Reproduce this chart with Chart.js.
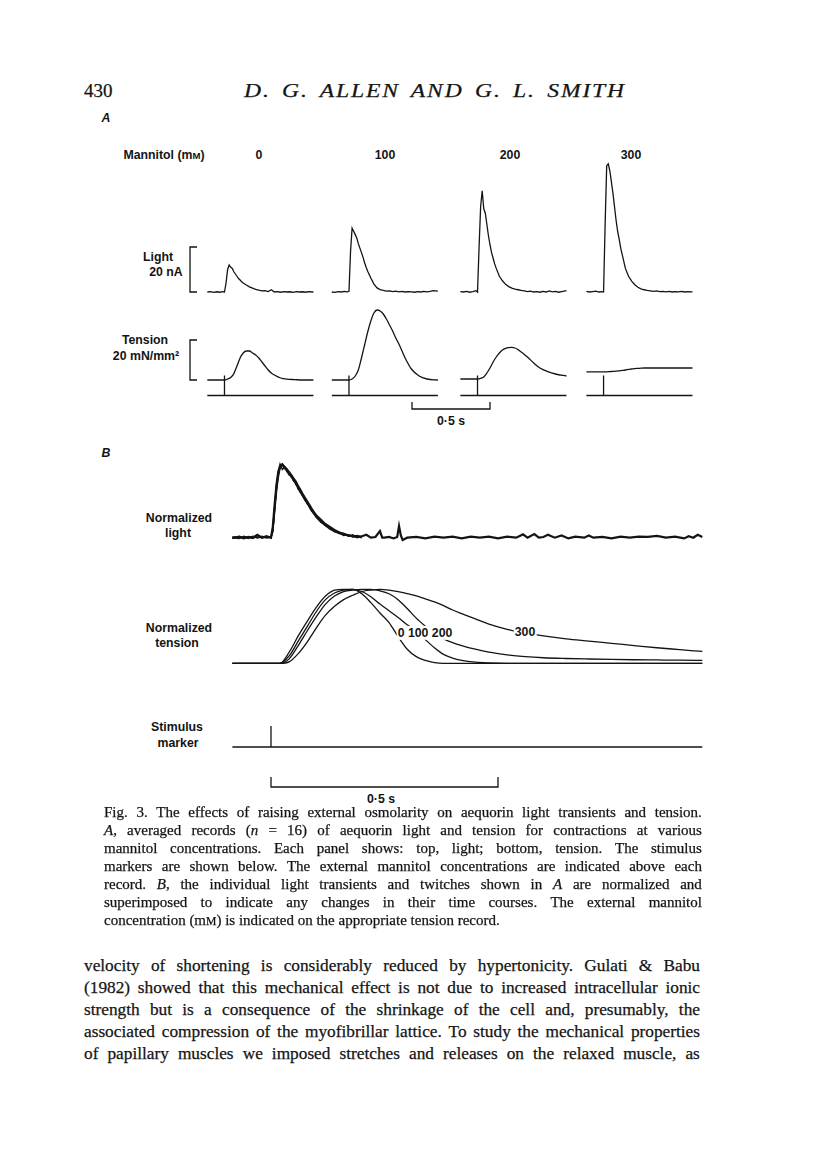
<!DOCTYPE html>
<html>
<head>
<meta charset="utf-8">
<script src="https://cdn.jsdelivr.net/npm/chart.js@4.4.1/dist/chart.umd.min.js"></script>
<style>
  body { margin: 0; background: #fff; }
  #page { position: relative; width: 816px; height: 1170px; overflow: hidden; color: #141414; }
  canvas { position: absolute; }
  .lab { position: absolute; transform: translate(-50%, -50%); font-family: "Liberation Sans", Arial, sans-serif;
         font-size: 12.3px; font-weight: bold; line-height: 1; white-space: nowrap; }
  .tag { background: #fff; padding: 1px 1px; }
  .serif { position: absolute; font-family: "Liberation Serif", "Times New Roman", serif; white-space: nowrap;
           -webkit-text-stroke: 0.25px #141414; }
  .j { position: absolute; display: flex; justify-content: space-between; white-space: nowrap;
       font-family: "Liberation Serif", "Times New Roman", serif; -webkit-text-stroke: 0.25px #141414; }
  .cap { left: 104px; width: 598px; font-size: 15px; line-height: 18px; }
  .body { left: 84px; width: 616px; font-size: 17.3px; line-height: 22px; }
  small { font-size: 0.78em; }
</style>
</head>
<body>
<div id="page">
  <div class="serif" style="left:84px; top:80px; font-size:19px;">430</div>
  <div class="serif" style="left:435px; top:80px; font-size:19px; font-style:italic; letter-spacing:1.5px; word-spacing:3px; transform:translateX(-50%) scaleX(1.24);">D. G. ALLEN AND G. L. SMITH</div>

  <div class="lab" style="left:106px; top:118px; font-style:italic;">A</div>
  <div class="lab" style="left:164px; top:155px;">Mannitol (m<small>M</small>)</div>
  <div class="lab" style="left:259px; top:155px;">0</div>
  <div class="lab" style="left:385px; top:155px;">100</div>
  <div class="lab" style="left:510px; top:155px;">200</div>
  <div class="lab" style="left:631px; top:155px;">300</div>
  <div class="lab" style="left:158px; top:257px;">Light</div>
  <div class="lab" style="left:166px; top:272px;">20 nA</div>
  <div class="lab" style="left:145px; top:340px;">Tension</div>
  <div class="lab" style="left:146px; top:356px;">20 mN/mm²</div>
  <div class="lab" style="left:451px; top:421px;">0·5 s</div>

  <div class="lab" style="left:106px; top:453px; font-style:italic;">B</div>
  <div class="lab" style="left:179px; top:518px;">Normalized</div>
  <div class="lab" style="left:178px; top:533px;">light</div>
  <div class="lab" style="left:179px; top:628px;">Normalized</div>
  <div class="lab" style="left:177px; top:643px;">tension</div>
  <div class="lab" style="left:177px; top:727px;">Stimulus</div>
  <div class="lab" style="left:178px; top:743px;">marker</div>
  <div class="lab" style="left:381px; top:799px;">0·5 s</div>

  <canvas id="panelA" width="620" height="290" style="left:100px; top:140px;"></canvas>
  <canvas id="panelB" width="520" height="360" style="left:200px; top:450px;"></canvas>

  <div class="lab tag" style="left:425px; top:633px;">0 100 200</div>
  <div class="lab tag" style="left:525px; top:632px;">300</div>

  <div class="j cap" style="top:803px;">Fig. 3. The effects of raising external osmolarity on aequorin light transients and tension.</div>
  <div class="j cap" style="top:821px;"><i>A</i>, averaged records (<i>n</i> = 16) of aequorin light and tension for contractions at various</div>
  <div class="j cap" style="top:839px;">mannitol concentrations. Each panel shows: top, light; bottom, tension. The stimulus</div>
  <div class="j cap" style="top:857px;">markers are shown below. The external mannitol concentrations are indicated above each</div>
  <div class="j cap" style="top:875px;">record. <i>B</i>, the individual light transients and twitches shown in <i>A</i> are normalized and</div>
  <div class="j cap" style="top:893px;">superimposed to indicate any changes in their time courses. The external mannitol</div>
  <div class="serif cap" style="top:911px;">concentration (m<small>M</small>) is indicated on the appropriate tension record.</div>

  <div class="j body" style="top:955px;">velocity of shortening is considerably reduced by hypertonicity. Gulati &amp; Babu</div>
  <div class="j body" style="top:977px;">(1982) showed that this mechanical effect is not due to increased intracellular ionic</div>
  <div class="j body" style="top:999px;">strength but is a consequence of the shrinkage of the cell and, presumably, the</div>
  <div class="j body" style="top:1021px;">associated compression of the myofibrillar lattice. To study the mechanical properties</div>
  <div class="j body" style="top:1043px;">of papillary muscles we imposed stretches and releases on the relaxed muscle, as</div>
</div>

<script>
// ---------- Panel A: averaged records, one per mannitol concentration ----------
const mannitol = ['0', '100', '200', '300'];

// light (nA) sampled at tLightA seconds after the stimulus
const tLightA = [-0.11, -0.09, -0.07, -0.05, -0.03, -0.01, 0, 0.01, 0.02, 0.03, 0.04, 0.05, 0.06, 0.07,
  0.08, 0.09, 0.10, 0.11, 0.12, 0.14, 0.16, 0.18, 0.20, 0.22, 0.24, 0.26, 0.28, 0.30, 0.32, 0.34,
  0.36, 0.38, 0.40, 0.42, 0.44, 0.46, 0.48, 0.50, 0.52, 0.54, 0.57];
const lightA0 = [0, 0.2, -0.2, 0.1, -0.1, 0.2, 0, 4, 10, 12, 11, 10.5, 9, 8, 7, 6, 5.3, 4.6, 4, 3.1,
  2.3, 1.7, 1.2, 0.8, 0.5, 0.6, 0.2, 1.0, 0, 0.2, -0.1, 0.2, 0, 0.1, -0.2, 0.2, 0, 0.1, -0.1, 0.2, 0];
const lightA100 = [0, -0.2, 0.2, 0, 0.3, 0.1, 0.3, 18, 28.4, 27, 25.5, 24, 21.5, 19.5, 17.5, 15.5, 13, 11,
  9.2, 6.2, 3.5, 1.8, 1.1, 0.7, 0.4, 0.5, 0.2, 0.4, 0.1, 0.3, 0, 0.2, 0.1, -0.1, 0.2, 0, 0.3, 0.1, 0.3, 0.6, 0.4];
const lightA200 = [0.2, 0, 0.3, -0.1, 0.2, 0.6, 0, 20, 38, 45, 37, 35, 30, 25, 21, 17.5, 15, 12.5, 10.5,
  7, 5, 3.4, 2.4, 1.7, 1.3, 1.0, 0.7, 0.5, 0.2, 0.4, 0, 0.2, -0.1, 0.3, 0, 0.5, 0.1, 0.3, -0.1, 0.2, 0.6];
const lightA300 = [0.3, 0, 0.2, 0.4, 0, 0.2, 0, 30, 56, 57, 54, 49, 44, 38, 32, 27, 23.5, 19.5, 16.5,
  10.5, 7, 4.8, 3.2, 2.1, 1.4, 1.0, 0.7, 0.5, 0.3, 0.5, 0.2, 0.3, 0.1, 0.3, 0, 0.2, 0.1, 0.3, 0, 0.2, 0.1];

// tension (mN/mm2)
const tTensionA = [-0.11, 0, 0.02, 0.04, 0.06, 0.08, 0.10, 0.12, 0.14, 0.16, 0.18, 0.20, 0.22, 0.24,
  0.26, 0.28, 0.30, 0.32, 0.36, 0.40, 0.45, 0.50, 0.57];
const tensionA0 = [0, 0, 0.5, 1.2, 3.2, 7, 11, 13.5, 14.5, 14.5, 13.5, 12.5, 11, 9, 7, 5, 3.5, 2.5, 1, 0.4, 0.2, 0, 0];
const tensionA100 = [0, 0, 0.5, 2, 5, 11, 17.5, 24, 29.5, 33.5, 35, 34.5, 33, 30.5, 27.5, 24.5, 21, 18, 11, 5.5, 2, 0.5, 0];
const tensionA200 = [0.5, 0.5, 0.8, 1.5, 3.5, 6, 9, 11.5, 13.5, 15, 15.8, 16.2, 16.3, 16, 15.2, 14, 12.8, 11.5, 8.5, 6, 4.2, 3, 2];
const tensionA300 = [4.1, 4.1, 4.1, 4.2, 4.3, 4.4, 4.6, 4.8, 5.0, 5.3, 5.5, 5.7, 5.8, 5.9, 6, 6, 6, 6, 6, 6, 6, 6, 6];

// stimulus marker
const tStimA = [-0.11, 0, 0, 0, 0.57];
const stimA = [0, 0, 1, 0, 0];

// calibrations
const lightCal = 20;      // nA
const tensionCal = 20;    // mN/mm2
const timeCalA = [2.0, 2.5]; // s, on the sheet's time axis

// ---------- Panel B: normalized and superimposed ----------
const tLightB = [-0.085, -0.07, -0.06, -0.05, -0.04, -0.03, -0.02, -0.01, 0, 0.004, 0.008, 0.012, 0.016,
  0.02, 0.025, 0.03, 0.035, 0.04, 0.045, 0.05, 0.055, 0.06, 0.065, 0.07, 0.075, 0.08, 0.085, 0.09, 0.095,
  0.10, 0.11, 0.12, 0.13, 0.14, 0.15, 0.16, 0.17, 0.18, 0.19, 0.20,
  0.21, 0.22, 0.23, 0.24, 0.245, 0.25, 0.26, 0.27, 0.278, 0.282, 0.286, 0.29, 0.30, 0.32, 0.34, 0.36,
  0.38, 0.40, 0.42, 0.44, 0.46, 0.48, 0.50, 0.52, 0.54, 0.555, 0.565, 0.58, 0.59, 0.60, 0.61, 0.625,
  0.64, 0.655, 0.67, 0.69, 0.70, 0.71, 0.73, 0.75, 0.77, 0.79, 0.81, 0.83, 0.85, 0.87, 0.89, 0.91,
  0.92, 0.93, 0.94, 0.95];
const lightB0 = [0.00, 0.01, -0.01, 0.01, 0.00, 0.04, 0.00, 0.02, 0.00, 0.15, 0.45, 0.72, 0.90,
  0.98, 1.00, 0.95, 0.92, 0.86, 0.84, 0.78, 0.75, 0.68, 0.62, 0.58, 0.52, 0.47, 0.43, 0.37, 0.33,
  0.28, 0.22, 0.17, 0.12, 0.09, 0.06, 0.05, 0.03, 0.02, 0.01, 0.02,
  0.04, 0.00, 0.01, 0.09, 0.00, 0.00, 0.01, -0.01, 0.01, 0.16, 0.03, -0.03, 0.00, 0.01, -0.01, 0.015,
  0.00, 0.015, -0.01, 0.015, 0.00, 0.015, -0.01, 0.015, 0.00, 0.045, 0.00, 0.05, 0.00, 0.01, 0.04, 0.00,
  0.03, -0.01, 0.015, 0.00, 0.03, 0.00, 0.01, -0.01, 0.015, 0.00, 0.015, 0.01, 0.025, 0.00, 0.015, -0.01,
  0.02, 0.00, 0.04, 0.01];
const lightB100 = [0.01, 0.00, 0.01, -0.01, 0.02, 0.00, 0.01, 0.00, 0.01, 0.10, 0.40, 0.70, 0.88,
  0.96, 0.99, 0.97, 0.90, 0.89, 0.82, 0.80, 0.72, 0.70, 0.63, 0.56, 0.54, 0.46, 0.42, 0.38, 0.32,
  0.30, 0.21, 0.18, 0.13, 0.08, 0.07, 0.03, 0.04, 0.01, 0.02, 0.00];
const lightB200 = [-0.01, 0.02, 0.00, 0.01, -0.01, 0.03, 0.00, 0.01, 0.00, 0.12, 0.42, 0.68, 0.86,
  1.00, 0.93, 0.96, 0.93, 0.87, 0.85, 0.77, 0.74, 0.66, 0.64, 0.57, 0.51, 0.48, 0.41, 0.36, 0.34,
  0.29, 0.23, 0.16, 0.14, 0.10, 0.06, 0.06, 0.02, 0.04, 0.00, 0.02];
const lightB300 = [0.00, -0.01, 0.02, 0.00, 0.01, 0.00, 0.02, 0.00, 0.01, 0.08, 0.35, 0.62, 0.82,
  0.95, 1.00, 0.97, 0.94, 0.90, 0.86, 0.81, 0.77, 0.71, 0.66, 0.60, 0.55, 0.50, 0.45, 0.40, 0.35,
  0.31, 0.25, 0.19, 0.15, 0.11, 0.08, 0.05, 0.04, 0.02, 0.03, 0.01];

const tTensionB = [-0.085, 0, 0.02, 0.04, 0.06, 0.08, 0.10, 0.12, 0.14, 0.16, 0.18, 0.20, 0.22, 0.24,
  0.26, 0.28, 0.30, 0.32, 0.34, 0.36, 0.38, 0.40, 0.42, 0.45, 0.48, 0.52, 0.56, 0.60, 0.65, 0.70,
  0.75, 0.80, 0.85, 0.90, 0.95];
const tensionB0 = [0, 0, 0, 0.15, 0.37, 0.57, 0.76, 0.91, 0.99, 1.0, 1.0, 0.94, 0.82, 0.68, 0.55, 0.36,
  0.19, 0.09, 0.04, 0.01, 0, 0, 0, 0, 0, 0, 0, 0, 0, 0, 0, 0, 0, 0, 0];
const tensionB100 = [0, 0, 0, 0.10, 0.30, 0.50, 0.70, 0.86, 0.95, 0.99, 1.0, 0.97, 0.90, 0.80, 0.71, 0.62,
  0.52, 0.44, 0.32, 0.21, 0.12, 0.07, 0.04, 0.015, 0.005, 0, 0, 0, 0, 0, 0, 0, 0, 0, 0];
const tensionB200 = [0, 0, 0, 0.06, 0.24, 0.44, 0.63, 0.80, 0.91, 0.97, 0.99, 1.0, 1.0, 0.98, 0.94, 0.86,
  0.74, 0.61, 0.50, 0.40, 0.33, 0.28, 0.24, 0.19, 0.15, 0.115, 0.09, 0.075, 0.065, 0.058, 0.052, 0.048,
  0.045, 0.042, 0.04];
const tensionB300 = [0, 0, 0, 0.02, 0.13, 0.29, 0.48, 0.65, 0.77, 0.86, 0.92, 0.97, 0.99, 1.0, 0.99, 0.97,
  0.94, 0.91, 0.87, 0.83, 0.78, 0.72, 0.67, 0.60, 0.53, 0.46, 0.41, 0.37, 0.33, 0.30, 0.27, 0.24,
  0.21, 0.185, 0.16];

const tStimB = [-0.085, 0, 0, 0, 0.95];
const stimB = [0, 0, 1, 0, 0];
const timeCalB = [0, 0.5];

// ---------- helpers ----------
const INK = '#141414';
const pts = (ts, vs, dx = 0) => vs.map((v, i) => ({ x: ts[i] + dx, y: v }));
// axis limits so that value 0 sits at page row basePx (canvas at top, height h)
const axisRange = (basePx, pxPerUnit, top, h) => ({
  min: -(top + h - basePx) / pxPerUnit,
  max: (basePx - top) / pxPerUnit
});
const line = (data, yAxisID, extra = {}) => Object.assign({
  data, yAxisID, showLine: true, pointRadius: 0, borderColor: INK, borderWidth: 1.3, fill: false, tension: 0
}, extra);
const bracket = (x0, x1, lo, hi) => [{ x: x1, y: hi }, { x: x0, y: hi }, { x: x0, y: lo }, { x: x1, y: lo }];
const baseOptions = (scales) => ({
  responsive: false, animation: false, events: [],
  layout: { padding: 0 },
  plugins: { legend: { display: false }, tooltip: { enabled: false } },
  scales
});
const hidden = (r) => ({ type: 'linear', display: false, min: r.min, max: r.max });

// ---------- panel A chart ----------
(function () {
  const top = 140, h = 290, w = 620, pxPerSec = 156;
  const recordAt = [0.798, 1.596, 2.42, 3.228]; // stimulus position of each record along the sheet (s)
  const calAt = 0.577;
  const lights = [lightA0, lightA100, lightA200, lightA300];
  const tensions = [tensionA0, tensionA100, tensionA200, tensionA300];
  const datasets = [];
  mannitol.forEach((m, i) => {
    datasets.push(line(pts(tLightA, lights[i], recordAt[i]), 'yLight'));
    datasets.push(line(pts(tTensionA, tensions[i], recordAt[i]), 'yTen', { cubicInterpolationMode: 'monotone' }));
    datasets.push(line(pts(tStimA, stimA, recordAt[i]), 'yStim'));
  });
  datasets.push(line(bracket(calAt, calAt + 0.045, 0, lightCal), 'yLight'));
  datasets.push(line(bracket(calAt, calAt + 0.045, 0, tensionCal), 'yTen'));
  datasets.push(line([{ x: timeCalA[0], y: 1 }, { x: timeCalA[0], y: 0 }, { x: timeCalA[1], y: 0 }, { x: timeCalA[1], y: 1 }], 'yBar'));

  new Chart(document.getElementById('panelA'), {
    type: 'scatter',
    data: { datasets },
    options: baseOptions({
      x: { type: 'linear', display: false, min: 0, max: w / pxPerSec },
      yLight: hidden(axisRange(292, 2.25, top, h)),
      yTen: hidden(axisRange(380, 2, top, h)),
      yStim: hidden(axisRange(395.5, 20, top, h)),
      yBar: hidden(axisRange(409, 7, top, h))
    })
  });
})();

// ---------- panel B chart ----------
(function () {
  const top = 450, h = 360, left = 200, w = 520, pxPerSec = 454, stimPx = 271;
  const lights = [lightB0, lightB100, lightB200, lightB300];
  const tensions = [tensionB0, tensionB100, tensionB200, tensionB300];
  const datasets = [];
  lights.forEach((l, i) => datasets.push(line(pts(tLightB, l), 'yLight', { borderWidth: i === 0 ? 2.2 : 1.5 })));
  tensions.forEach(tn => datasets.push(line(pts(tTensionB, tn), 'yTen', { cubicInterpolationMode: 'monotone' })));
  datasets.push(line(pts(tStimB, stimB), 'yStim'));
  datasets.push(line([{ x: timeCalB[0], y: 1 }, { x: timeCalB[0], y: 0 }, { x: timeCalB[1], y: 0 }, { x: timeCalB[1], y: 1 }], 'yBar'));

  new Chart(document.getElementById('panelB'), {
    type: 'scatter',
    data: { datasets },
    options: baseOptions({
      x: { type: 'linear', display: false, min: (left - stimPx) / pxPerSec, max: (left + w - stimPx) / pxPerSec },
      yLight: hidden(axisRange(537.7, 73.4, top, h)),
      yTen: hidden(axisRange(663.3, 74, top, h)),
      yStim: hidden(axisRange(747, 21, top, h)),
      yBar: hidden(axisRange(787, 10, top, h))
    })
  });
})();

// justified lines: spread the words across the full measure
document.querySelectorAll('.j').forEach(el => {
  el.innerHTML = el.innerHTML.trim().split(/\s+/).map(wd => `<span>${wd}</span>`).join('');
});
</script>
</body>
</html>
